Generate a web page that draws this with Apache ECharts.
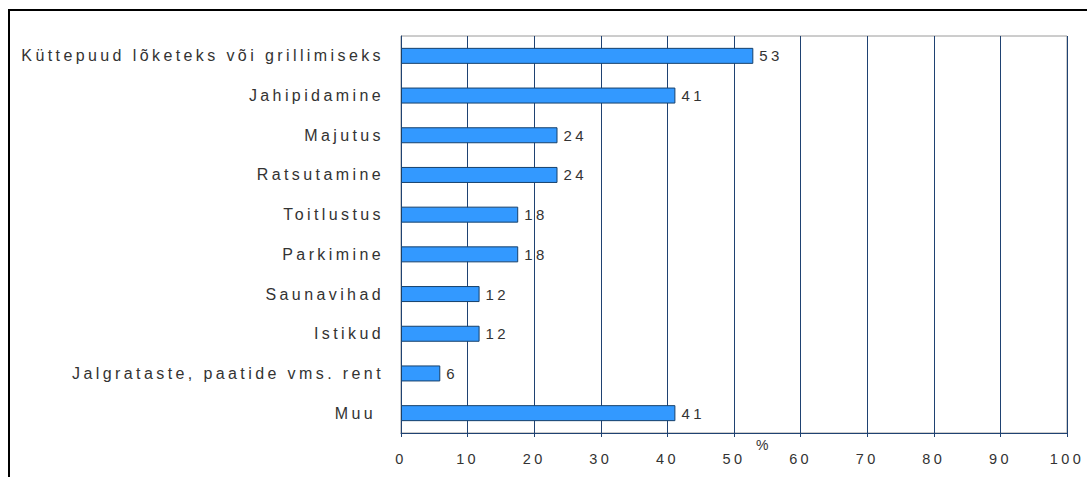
<!DOCTYPE html>
<html>
<head>
<meta charset="utf-8">
<script src="https://cdn.jsdelivr.net/npm/echarts@6/dist/echarts.min.js"></script>
<style>
  html, body { margin: 0; padding: 0; background: #fff; }
  #chart { width: 1087px; height: 477px; }
  /* originaalis on tekst hõredalt laotud */
  #chart text { letter-spacing: 3.4px; }
</style>
</head>
<body>
<div id="chart"></div>
<script>
// kategooriad ülevalt alla
const categories = [
  'Küttepuud lõketeks või grillimiseks',
  'Jahipidamine',
  'Majutus',
  'Ratsutamine',
  'Toitlustus',
  'Parkimine',
  'Saunavihad',
  'Istikud',
  'Jalgrataste, paatide vms. rent',
  'Muu '
]
const values = [52.9, 41.2, 23.5, 23.5, 17.6, 17.6, 11.8, 11.8, 5.9, 41.2]
const axisMax = 100
const axisStep = 10

const chart = echarts.init(document.getElementById('chart'), null, { renderer: 'svg' })
const navy = '#1F4272'
const font = 'Liberation Sans'

chart.setOption({
  animation: false,
  textStyle: { fontFamily: font },
  graphic: [
    {
      type: 'rect',
      shape: { x: 9, y: 10, width: 1200, height: 600 },
      style: { fill: 'none', stroke: '#000', lineWidth: 2 },
      z: -1
    }
  ],
  grid: {
    left: 401,
    right: 20,
    top: 36,
    bottom: 44,
    outerBoundsMode: 'none',
    containLabel: false,
    show: true,
    borderColor: '#9a9a9a',
    borderWidth: 1
  },
  xAxis: {
    type: 'value',
    min: 0,
    max: axisMax,
    interval: axisStep,
    name: '%',
    nameLocation: 'middle',
    nameGap: 5,
    nameMoveOverlap: false,
    nameTextStyle: { color: '#333', fontSize: 14, padding: [0, 0, 0, 60] },
    axisLine: { show: true, lineStyle: { color: navy, width: 1 } },
    axisTick: { show: true, length: 4, lineStyle: { color: navy } },
    axisLabel: { color: '#333', fontSize: 14.5, margin: 18 },
    splitLine: { show: true, lineStyle: { color: navy, width: 1 } }
  },
  yAxis: {
    type: 'category',
    data: categories,
    inverse: true,
    axisLine: { show: true, lineStyle: { color: navy, width: 1 } },
    axisTick: { show: false },
    axisLabel: { color: '#333', fontSize: 16, margin: 17 },
    splitLine: { show: false }
  },
  series: [
    {
      type: 'bar',
      data: values,
      barWidth: 16,
      itemStyle: {
        color: '#3399FF',
        borderColor: '#17406B',
        borderWidth: 1
      },
      label: {
        show: true,
        position: 'right',
        distance: 6,
        color: '#333',
        fontSize: 15,
        formatter: p => Math.round(p.value)
      }
    }
  ]
})
</script>
</body>
</html>
